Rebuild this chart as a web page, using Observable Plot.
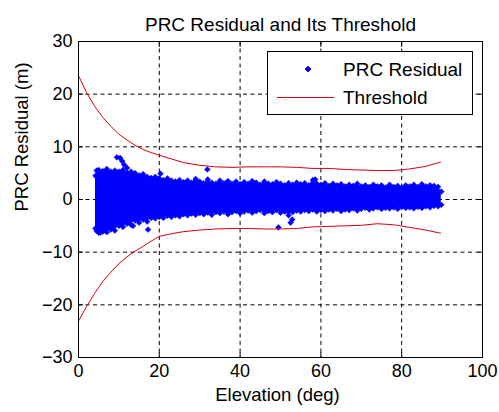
<!DOCTYPE html>
<html><head><meta charset="utf-8">
<script src="https://cdn.jsdelivr.net/npm/d3@7"></script>
<script src="https://cdn.jsdelivr.net/npm/@observablehq/plot@0.6"></script>
<style>body{margin:0;background:#fff}#chart{width:499px;height:412px}</style>
</head><body><div id="chart"></div>
<script>
const titleText = "PRC Residual and Its Threshold";
const xLabel = "Elevation (deg)";
const yLabel = "PRC Residual (m)";
const seriesNames = ["PRC Residual", "Threshold"];
const xTicks = [0, 20, 40, 60, 80, 100];
const yTicks = [-30, -20, -10, 0, 10, 20, 30];

// Threshold curves (elevation, upper, lower)
const thrElev  = [0, 2, 4, 6, 8, 10, 12, 14, 16, 18, 20, 23, 26, 30, 34, 38, 42, 46, 50, 54, 58, 62, 66, 70, 74, 78, 82, 86, 89.6];
const thrUpper = [23.5, 20.3, 17.7, 15.6, 13.9, 12.4, 11.3, 10.3, 9.5, 8.9, 8.4, 7.7, 7.0, 6.5, 6.2, 6.1, 6.2, 6.2, 6.2, 6.1, 5.9, 5.9, 5.7, 5.6, 5.5, 5.5, 5.8, 6.3, 7.1];
const thrLower = [-23.1, -20.3, -17.8, -15.6, -13.8, -12.2, -10.9, -9.8, -8.9, -7.9, -7.0, -6.5, -6.1, -5.8, -5.6, -5.5, -5.5, -5.6, -5.6, -5.5, -5.2, -5.1, -5.0, -4.9, -4.6, -4.8, -5.3, -5.8, -6.4];

// Residual cloud envelope
const cloudElev = [4.2, 4.5, 5, 6, 7, 8, 9, 10, 11, 12, 13, 14, 15, 16, 17, 18, 19, 20, 21, 22, 23, 24, 25, 26, 27, 28, 29, 30, 31, 32, 33, 34, 35, 36, 37, 38, 39, 40, 41, 42, 43, 44, 45, 46, 47, 48, 49, 50, 51, 52, 53, 54, 55, 56, 57, 58, 59, 60, 61, 62, 63, 64, 65, 66, 67, 68, 69, 70, 71, 72, 73, 74, 75, 76, 77, 78, 79, 80, 81, 82, 83, 84, 85, 86, 87, 88, 89, 89.8];
const cloudTop = [4.5, 5.5, 5.6, 5.4, 5.8, 5.3, 5.5, 5.3, 5.6, 5.1, 5.3, 5.0, 4.6, 4.8, 4.3, 4.1, 4.3, 4.0, 3.7, 4.0, 3.6, 3.4, 3.7, 3.3, 3.6, 3.2, 3.9, 3.4, 3.1, 3.8, 3.2, 3.0, 3.6, 3.1, 3.5, 3.0, 3.4, 2.9, 3.3, 3.0, 3.5, 3.2, 2.8, 3.4, 3.0, 2.9, 3.3, 3.0, 2.7, 3.1, 2.8, 3.2, 2.9, 3.1, 2.7, 3.7, 3.0, 2.8, 3.1, 2.6, 3.0, 2.7, 2.9, 2.5, 2.8, 2.6, 3.0, 2.5, 2.7, 2.4, 2.8, 2.5, 2.7, 2.3, 2.8, 2.4, 2.6, 2.3, 2.7, 2.5, 2.8, 2.4, 2.9, 2.5, 2.7, 2.6, 2.4, 1.5];
const cloudBottom = [-5.5, -6.0, -6.3, -6.1, -6.2, -5.7, -5.9, -5.0, -5.2, -4.6, -4.8, -4.0, -4.4, -3.8, -4.2, -3.5, -3.6, -3.3, -3.5, -3.1, -3.3, -3.0, -3.2, -2.8, -3.0, -2.7, -2.9, -2.6, -2.8, -2.5, -2.9, -2.4, -2.6, -2.3, -2.8, -2.4, -2.2, -2.6, -2.3, -2.1, -2.5, -2.2, -2.0, -2.6, -2.2, -2.4, -2.0, -2.5, -2.3, -3.0, -2.4, -2.1, -2.3, -2.0, -2.2, -1.9, -2.3, -2.0, -2.2, -1.9, -2.1, -1.8, -2.2, -1.9, -2.0, -1.7, -2.1, -1.8, -1.6, -1.9, -1.7, -1.5, -1.8, -1.6, -1.7, -1.5, -1.8, -1.4, -1.6, -1.5, -1.7, -1.4, -1.6, -1.3, -1.5, -1.2, -1.3, -1.0];

// Isolated residual points
const outlierElev = [9.5, 10.3, 10.8, 11.3, 12.0, 20.3, 31.9, 17.2, 13.5, 5.4, 49.5, 52.5, 52.9, 58.6];
const outlierRes  = [8.0, 7.9, 7.3, 6.6, 6.0, 4.9, 5.7, -5.7, -5.0, -6.3, -5.3, -4.4, -3.8, 3.8];

const thr = thrElev.map((e, i) => ({e, upper: thrUpper[i], lower: thrLower[i]}));
const cloud = cloudElev.map((e, i) => ({e, top: cloudTop[i], bottom: cloudBottom[i]}));
const outliers = outlierElev.map((e, i) => ({e, r: outlierRes[i]}));

const FONT = "'Liberation Sans', Arial, sans-serif";
const BLUE = "#0000ff";
const RED = "#d8000f";
const DASH = "4,3.5";
const noText = () => "";

const plot = Plot.plot({
  width: 499,
  height: 412,
  marginLeft: 78,
  marginRight: 17,
  marginTop: 41,
  marginBottom: 55,
  style: {fontFamily: FONT, fontSize: "18px", background: "white", color: "black", overflow: "visible"},
  x: {domain: [0, 100]},
  y: {domain: [-30, 30]},
  marks: [
    Plot.gridX(xTicks.slice(1, -1), {stroke: "black", strokeOpacity: 1, strokeDasharray: DASH}),
    Plot.gridY(yTicks.slice(1, -1), {stroke: "black", strokeOpacity: 1, strokeDasharray: DASH}),
    Plot.areaY(cloud, {x: "e", y1: "bottom", y2: "top", fill: BLUE}),
    Plot.dot(cloud, {x: "e", y: "top", symbol: "diamond2", r: 2.6, fill: BLUE, stroke: BLUE, strokeWidth: 0.5}),
    Plot.dot(cloud, {x: "e", y: "bottom", symbol: "diamond2", r: 2.6, fill: BLUE, stroke: BLUE, strokeWidth: 0.5}),
    Plot.dot(outliers, {x: "e", y: "r", symbol: "diamond2", r: 2.6, fill: BLUE, stroke: BLUE, strokeWidth: 0.5}),
    Plot.line(thr, {x: "e", y: "upper", stroke: RED, strokeWidth: 1}),
    Plot.line(thr, {x: "e", y: "lower", stroke: RED, strokeWidth: 1}),
    Plot.axisX(xTicks, {anchor: "bottom", tickSize: -5, tickFormat: noText, label: null, stroke: "black"}),
    Plot.axisX(xTicks, {anchor: "top", tickSize: -5, tickFormat: noText, label: null, stroke: "black"}),
    Plot.axisY(yTicks, {anchor: "left", tickSize: -5, tickFormat: noText, label: null, stroke: "black"}),
    Plot.axisY(yTicks, {anchor: "right", tickSize: -5, tickFormat: noText, label: null, stroke: "black"}),
    Plot.axisX(xTicks, {anchor: "bottom", tickSize: 0, tickPadding: 7, label: null, fontSize: 18, fill: "black"}),
    Plot.axisY(yTicks, {anchor: "left", tickSize: 0, tickPadding: 6, label: null, fontSize: 18, fill: "black"}),
    Plot.frame({stroke: "black", strokeWidth: 1}),
    Plot.text([titleText], {frameAnchor: "top", dy: -24, fontSize: 19, fill: "black"}),
    Plot.text([xLabel], {frameAnchor: "bottom", dy: 43, dx: -3, fontSize: 18.5, fill: "black"}),
    Plot.text([yLabel], {frameAnchor: "left", dx: -56, dy: 12, rotate: -90, fontSize: 18.5, fill: "black"})
  ]
});

document.getElementById("chart").appendChild(plot);

// Legend box (MATLAB style), drawn into the plot's SVG
const svg = d3.select(plot);
const lg = svg.append("g").attr("font-family", FONT).attr("font-size", 19).attr("text-anchor", "start");
lg.append("rect").attr("x", 267.5).attr("y", 51.5).attr("width", 205).attr("height", 63)
  .attr("fill", "white").attr("stroke", "black");
lg.append("path").attr("d", d3.symbol(d3.symbolDiamond2, 22)()).attr("transform", "translate(308,69)")
  .attr("fill", BLUE).attr("stroke", BLUE);
lg.append("text").attr("x", 343).attr("y", 69).attr("dy", "0.35em").attr("fill", "black").text(seriesNames[0]);
lg.append("line").attr("x1", 277).attr("x2", 334).attr("y1", 97.5).attr("y2", 97.5).attr("stroke", RED);
lg.append("text").attr("x", 343).attr("y", 97.5).attr("dy", "0.35em").attr("fill", "black").text(seriesNames[1]);
</script>
</body></html>
